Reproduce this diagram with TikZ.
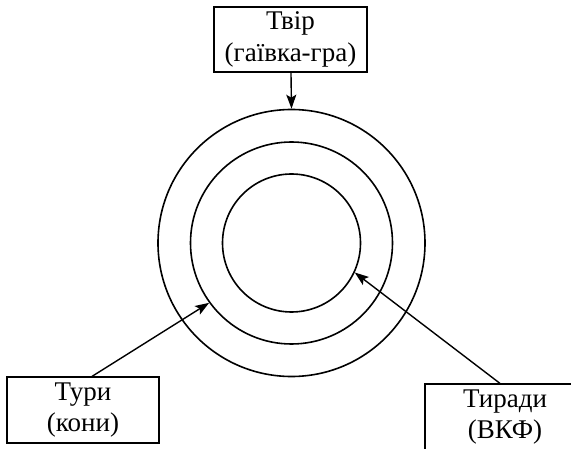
\documentclass[tikz,border=0pt]{standalone}
\usepackage{fontspec}
\setmainfont{Liberation Serif}
\usetikzlibrary{arrows.meta}

\begin{document}
\begin{tikzpicture}[x=1pt, y=-1pt,
    labelbox/.style={rectangle, draw, line width=1.2pt, align=center, inner sep=0pt,
        font=\fontsize{27}{31.5}\selectfont},
    ring/.style={circle, draw, line width=1.6pt, inner sep=0pt},
    pointer/.style={-{Stealth[length=14pt, width=10pt, inset=3pt]}, line width=1.4pt}]
    \clip (0,0) rectangle (571,449);
    % Nodes
    \node (inner) [ring, minimum size=138pt] at (291.5,243) {};
    \node (middle) [ring, minimum size=202pt] at (291.5,243) {};
    \node (outer) [ring, minimum size=267pt] at (291.5,243) {};
    \node (tvir) [labelbox, minimum width=153pt, minimum height=65pt] at (290.5,39.5) {Твір\\(гаївка-гра)};
    \node (tury) [labelbox, minimum width=152pt, minimum height=66pt] at (83,410) {Тури\\(кони)};
    \node (tyrady) [labelbox, minimum width=160pt, minimum height=66pt] at (505,417) {Тиради\\(ВКФ)};

    % Arrows
    \draw[pointer] (tvir) -- (outer.north);
    \draw[pointer] ([xshift=9pt]tury.north) -- (middle.216);
    \draw[pointer] ([xshift=-5pt]tyrady.north) -- (inner.335);
\end{tikzpicture}
\end{document}
